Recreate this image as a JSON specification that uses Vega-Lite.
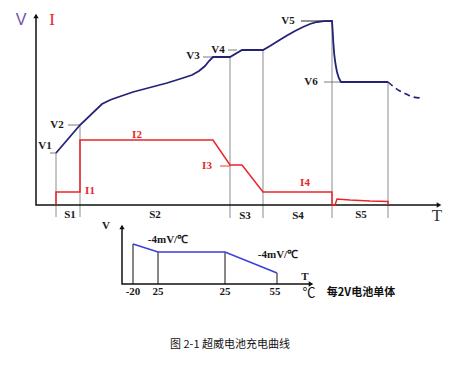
{
  "$schema": "https://vega.github.io/schema/vega-lite/v6.json",
  "width": 455,
  "height": 368,
  "autosize": {"type": "fit", "contains": "padding"},
  "padding": 0,
  "background": "white",
  "config": {"view": {"stroke": null}},
  "datasets": {
    "axes": [
      {"g": "main", "o": 1, "x": 36, "y": 15},
      {"g": "main", "o": 2, "x": 36, "y": 205},
      {"g": "main", "o": 3, "x": 439, "y": 205},
      {"g": "inset", "o": 1, "x": 122, "y": 226},
      {"g": "inset", "o": 2, "x": 122, "y": 284},
      {"g": "inset", "o": 3, "x": 311, "y": 284}
    ],
    "arrows": [
      {"x": 36, "y": 16, "s": "triangle-up"},
      {"x": 439, "y": 205, "s": "triangle-right"},
      {"x": 122, "y": 227, "s": "triangle-up"},
      {"x": 311, "y": 284, "s": "triangle-right"}
    ],
    "vguides": [
      {"x": 56, "y": 153, "y2": 217},
      {"x": 80, "y": 125, "y2": 217},
      {"x": 230, "y": 57, "y2": 218},
      {"x": 263, "y": 50, "y2": 218},
      {"x": 332, "y": 21, "y2": 218},
      {"x": 388, "y": 82, "y2": 218}
    ],
    "hticks": [
      {"x": 50, "x2": 56, "y": 153, "c": "gray"},
      {"x": 68, "x2": 80, "y": 125, "c": "gray"},
      {"x": 203, "x2": 213, "y": 57, "c": "gray"},
      {"x": 228, "x2": 237, "y": 50, "c": "gray"},
      {"x": 301, "x2": 332, "y": 21, "c": "black"},
      {"x": 324, "x2": 341, "y": 82, "c": "gray"},
      {"x": 220, "x2": 230, "y": 166, "c": "red"}
    ],
    "vcurve": [
      {"o": 1, "x": 56, "y": 153},
      {"o": 2, "x": 80, "y": 125},
      {"o": 3, "x": 102, "y": 104},
      {"o": 4, "x": 110, "y": 100},
      {"o": 5, "x": 117, "y": 97.5},
      {"o": 6, "x": 133, "y": 92},
      {"o": 7, "x": 150, "y": 87.5},
      {"o": 8, "x": 167, "y": 83},
      {"o": 9, "x": 183, "y": 78},
      {"o": 10, "x": 192, "y": 75},
      {"o": 11, "x": 199, "y": 71},
      {"o": 12, "x": 205, "y": 66},
      {"o": 13, "x": 209, "y": 61},
      {"o": 14, "x": 213, "y": 57},
      {"o": 15, "x": 230, "y": 57},
      {"o": 16, "x": 242, "y": 50},
      {"o": 17, "x": 263, "y": 50},
      {"o": 18, "x": 270, "y": 46},
      {"o": 19, "x": 278, "y": 41},
      {"o": 20, "x": 287, "y": 35.5},
      {"o": 21, "x": 295, "y": 31},
      {"o": 22, "x": 303, "y": 27},
      {"o": 23, "x": 310, "y": 24},
      {"o": 24, "x": 317, "y": 22},
      {"o": 25, "x": 324, "y": 21.2},
      {"o": 26, "x": 332, "y": 21},
      {"o": 27, "x": 332.6, "y": 30},
      {"o": 28, "x": 333.3, "y": 42},
      {"o": 29, "x": 334.2, "y": 54},
      {"o": 30, "x": 335.5, "y": 64},
      {"o": 31, "x": 337, "y": 72},
      {"o": 32, "x": 338.8, "y": 78},
      {"o": 33, "x": 341, "y": 82},
      {"o": 34, "x": 388, "y": 82}
    ],
    "vdash": [
      {"o": 1, "x": 388, "y": 82},
      {"o": 2, "x": 394, "y": 87},
      {"o": 3, "x": 400, "y": 91},
      {"o": 4, "x": 406, "y": 94},
      {"o": 5, "x": 413, "y": 97},
      {"o": 6, "x": 421, "y": 98}
    ],
    "icurve": [
      {"o": 1, "x": 56, "y": 205},
      {"o": 2, "x": 56, "y": 192},
      {"o": 3, "x": 80, "y": 192},
      {"o": 4, "x": 80, "y": 140},
      {"o": 5, "x": 213, "y": 140},
      {"o": 6, "x": 230, "y": 165},
      {"o": 7, "x": 242, "y": 165},
      {"o": 8, "x": 263, "y": 192},
      {"o": 9, "x": 332, "y": 192},
      {"o": 10, "x": 332, "y": 205},
      {"o": 11, "x": 335, "y": 205},
      {"o": 12, "x": 337, "y": 199},
      {"o": 13, "x": 350, "y": 200},
      {"o": 14, "x": 370, "y": 201},
      {"o": 15, "x": 388, "y": 201.5},
      {"o": 16, "x": 388, "y": 205}
    ],
    "insetv": [
      {"x": 133, "y": 244, "y2": 284},
      {"x": 158, "y": 252, "y2": 284},
      {"x": 225, "y": 252, "y2": 284},
      {"x": 277, "y": 273, "y2": 284}
    ],
    "insetline": [
      {"o": 1, "x": 133, "y": 244},
      {"o": 2, "x": 158, "y": 252},
      {"o": 3, "x": 225, "y": 252},
      {"o": 4, "x": 277, "y": 273}
    ],
    "blacklabels": [
      {"x": 45, "y": 146, "t": "V1"},
      {"x": 57, "y": 125, "t": "V2"},
      {"x": 193, "y": 56, "t": "V3"},
      {"x": 218, "y": 50, "t": "V4"},
      {"x": 288, "y": 21, "t": "V5"},
      {"x": 311, "y": 82, "t": "V6"},
      {"x": 70, "y": 215, "t": "S1"},
      {"x": 155, "y": 215, "t": "S2"},
      {"x": 245, "y": 216, "t": "S3"},
      {"x": 298, "y": 216, "t": "S4"},
      {"x": 361, "y": 215, "t": "S5"},
      {"x": 168, "y": 240, "t": "-4mV/℃"},
      {"x": 278, "y": 255, "t": "-4mV/℃"},
      {"x": 133, "y": 292, "t": "-20"},
      {"x": 158, "y": 292, "t": "25"},
      {"x": 225, "y": 292, "t": "25"},
      {"x": 275, "y": 292, "t": "55"},
      {"x": 106, "y": 226, "t": "V"},
      {"x": 305, "y": 277, "t": "T"}
    ],
    "redlabels": [
      {"x": 90, "y": 191, "t": "I1"},
      {"x": 137, "y": 135, "t": "I2"},
      {"x": 207, "y": 166, "t": "I3"},
      {"x": 305, "y": 183, "t": "I4"}
    ]
  },
  "layer": [
    {
      "data": {"name": "vguides"},
      "mark": {"type": "rule", "color": "#6e6e6e", "strokeWidth": 0.8},
      "encoding": {
        "x": {"field": "x", "type": "quantitative", "scale": {"domain": [0, 455], "nice": false, "zero": false}, "axis": null},
        "y": {"field": "y", "type": "quantitative", "scale": {"domain": [0, 368], "nice": false, "zero": false, "reverse": true}, "axis": null},
        "y2": {"field": "y2"}
      }
    },
    {
      "data": {"name": "hticks"},
      "mark": {"type": "rule", "strokeWidth": 0.9},
      "encoding": {
        "x": {"field": "x", "type": "quantitative", "scale": {"domain": [0, 455], "nice": false, "zero": false}, "axis": null},
        "x2": {"field": "x2"},
        "y": {"field": "y", "type": "quantitative", "scale": {"domain": [0, 368], "nice": false, "zero": false, "reverse": true}, "axis": null},
        "color": {"field": "c", "type": "nominal", "scale": {"domain": ["gray", "black", "red"], "range": ["#6e6e6e", "#111111", "#e8262a"]}, "legend": null}
      }
    },
    {
      "data": {"name": "axes"},
      "mark": {"type": "line", "color": "#111111", "strokeWidth": 1.5},
      "encoding": {
        "x": {"field": "x", "type": "quantitative", "scale": {"domain": [0, 455], "nice": false, "zero": false}, "axis": null},
        "y": {"field": "y", "type": "quantitative", "scale": {"domain": [0, 368], "nice": false, "zero": false, "reverse": true}, "axis": null},
        "detail": {"field": "g"},
        "order": {"field": "o", "type": "quantitative"}
      }
    },
    {
      "data": {"name": "arrows"},
      "mark": {"type": "point", "filled": true, "color": "#111111", "opacity": 1, "size": 28},
      "encoding": {
        "x": {"field": "x", "type": "quantitative", "scale": {"domain": [0, 455], "nice": false, "zero": false}, "axis": null},
        "y": {"field": "y", "type": "quantitative", "scale": {"domain": [0, 368], "nice": false, "zero": false, "reverse": true}, "axis": null},
        "shape": {"field": "s", "type": "nominal", "scale": {"domain": ["triangle-up", "triangle-right"], "range": ["triangle-up", "triangle-right"]}, "legend": null}
      }
    },
    {
      "data": {"name": "insetv"},
      "mark": {"type": "rule", "color": "#111111", "strokeWidth": 1},
      "encoding": {
        "x": {"field": "x", "type": "quantitative", "scale": {"domain": [0, 455], "nice": false, "zero": false}, "axis": null},
        "y": {"field": "y", "type": "quantitative", "scale": {"domain": [0, 368], "nice": false, "zero": false, "reverse": true}, "axis": null},
        "y2": {"field": "y2"}
      }
    },
    {
      "data": {"name": "insetline"},
      "mark": {"type": "line", "color": "#3b3fd9", "strokeWidth": 1.6},
      "encoding": {
        "x": {"field": "x", "type": "quantitative", "scale": {"domain": [0, 455], "nice": false, "zero": false}, "axis": null},
        "y": {"field": "y", "type": "quantitative", "scale": {"domain": [0, 368], "nice": false, "zero": false, "reverse": true}, "axis": null},
        "order": {"field": "o", "type": "quantitative"}
      }
    },
    {
      "data": {"name": "icurve"},
      "mark": {"type": "line", "color": "#e8262a", "strokeWidth": 1.5},
      "encoding": {
        "x": {"field": "x", "type": "quantitative", "scale": {"domain": [0, 455], "nice": false, "zero": false}, "axis": null},
        "y": {"field": "y", "type": "quantitative", "scale": {"domain": [0, 368], "nice": false, "zero": false, "reverse": true}, "axis": null},
        "order": {"field": "o", "type": "quantitative"}
      }
    },
    {
      "data": {"name": "vcurve"},
      "mark": {"type": "line", "color": "#232276", "strokeWidth": 1.8},
      "encoding": {
        "x": {"field": "x", "type": "quantitative", "scale": {"domain": [0, 455], "nice": false, "zero": false}, "axis": null},
        "y": {"field": "y", "type": "quantitative", "scale": {"domain": [0, 368], "nice": false, "zero": false, "reverse": true}, "axis": null},
        "order": {"field": "o", "type": "quantitative"}
      }
    },
    {
      "data": {"name": "vdash"},
      "mark": {"type": "line", "color": "#232276", "strokeWidth": 1.6, "strokeDash": [6, 4], "interpolate": "monotone"},
      "encoding": {
        "x": {"field": "x", "type": "quantitative", "scale": {"domain": [0, 455], "nice": false, "zero": false}, "axis": null},
        "y": {"field": "y", "type": "quantitative", "scale": {"domain": [0, 368], "nice": false, "zero": false, "reverse": true}, "axis": null},
        "order": {"field": "o", "type": "quantitative"}
      }
    },
    {
      "data": {"name": "blacklabels"},
      "mark": {"type": "text", "font": "Liberation Serif", "fontWeight": "bold", "fontSize": 11, "color": "#1a1a1a", "align": "center", "baseline": "middle"},
      "encoding": {
        "x": {"field": "x", "type": "quantitative", "scale": {"domain": [0, 455], "nice": false, "zero": false}, "axis": null},
        "y": {"field": "y", "type": "quantitative", "scale": {"domain": [0, 368], "nice": false, "zero": false, "reverse": true}, "axis": null},
        "text": {"field": "t"}
      }
    },
    {
      "data": {"name": "redlabels"},
      "mark": {"type": "text", "font": "Liberation Serif", "fontWeight": "bold", "fontSize": 11, "color": "#e8262a", "align": "center", "baseline": "middle"},
      "encoding": {
        "x": {"field": "x", "type": "quantitative", "scale": {"domain": [0, 455], "nice": false, "zero": false}, "axis": null},
        "y": {"field": "y", "type": "quantitative", "scale": {"domain": [0, 368], "nice": false, "zero": false, "reverse": true}, "axis": null},
        "text": {"field": "t"}
      }
    },
    {
      "data": {"values": [
        {"x": 21, "y": 20, "t": "V"}
      ]},
      "mark": {"type": "text", "font": "Liberation Sans", "fontSize": 16, "align": "center", "baseline": "middle", "color": "#6a4fae"},
      "encoding": {
        "x": {"field": "x", "type": "quantitative", "scale": {"domain": [0, 455], "nice": false, "zero": false}, "axis": null},
        "y": {"field": "y", "type": "quantitative", "scale": {"domain": [0, 368], "nice": false, "zero": false, "reverse": true}, "axis": null},
        "text": {"field": "t"}
      }
    },
    {
      "data": {"values": [
        {"x": 52, "y": 20, "t": "I"}
      ]},
      "mark": {"type": "text", "font": "Liberation Serif", "fontSize": 17, "align": "center", "baseline": "middle", "color": "#e8262a"},
      "encoding": {
        "x": {"field": "x", "type": "quantitative", "scale": {"domain": [0, 455], "nice": false, "zero": false}, "axis": null},
        "y": {"field": "y", "type": "quantitative", "scale": {"domain": [0, 368], "nice": false, "zero": false, "reverse": true}, "axis": null},
        "text": {"field": "t"}
      }
    },
    {
      "data": {"values": [
        {"x": 437, "y": 216, "t": "T"}
      ]},
      "mark": {"type": "text", "font": "Liberation Serif", "fontSize": 17, "align": "center", "baseline": "middle", "color": "#333333"},
      "encoding": {
        "x": {"field": "x", "type": "quantitative", "scale": {"domain": [0, 455], "nice": false, "zero": false}, "axis": null},
        "y": {"field": "y", "type": "quantitative", "scale": {"domain": [0, 368], "nice": false, "zero": false, "reverse": true}, "axis": null},
        "text": {"field": "t"}
      }
    },
    {
      "data": {"values": [
        {"x": 309, "y": 293, "t": "℃"}
      ]},
      "mark": {"type": "text", "font": "Noto Sans CJK SC", "fontSize": 13, "align": "center", "baseline": "middle", "color": "#111111"},
      "encoding": {
        "x": {"field": "x", "type": "quantitative", "scale": {"domain": [0, 455], "nice": false, "zero": false}, "axis": null},
        "y": {"field": "y", "type": "quantitative", "scale": {"domain": [0, 368], "nice": false, "zero": false, "reverse": true}, "axis": null},
        "text": {"field": "t"}
      }
    },
    {
      "data": {"values": [
        {"x": 361, "y": 293, "t": "每2V电池单体"}
      ]},
      "mark": {"type": "text", "font": "Noto Sans CJK SC", "fontSize": 11, "fontWeight": "bold", "align": "center", "baseline": "middle", "color": "#111111"},
      "encoding": {
        "x": {"field": "x", "type": "quantitative", "scale": {"domain": [0, 455], "nice": false, "zero": false}, "axis": null},
        "y": {"field": "y", "type": "quantitative", "scale": {"domain": [0, 368], "nice": false, "zero": false, "reverse": true}, "axis": null},
        "text": {"field": "t"}
      }
    },
    {
      "data": {"values": [
        {"x": 230, "y": 345, "t": "图 2-1  超威电池充电曲线"}
      ]},
      "mark": {"type": "text", "font": "Noto Sans CJK SC", "fontSize": 11, "align": "center", "baseline": "middle", "color": "#111111"},
      "encoding": {
        "x": {"field": "x", "type": "quantitative", "scale": {"domain": [0, 455], "nice": false, "zero": false}, "axis": null},
        "y": {"field": "y", "type": "quantitative", "scale": {"domain": [0, 368], "nice": false, "zero": false, "reverse": true}, "axis": null},
        "text": {"field": "t"}
      }
    }
  ]
}
